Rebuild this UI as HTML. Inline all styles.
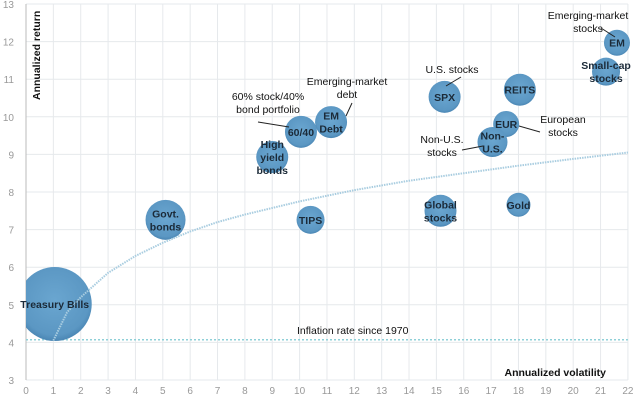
<!DOCTYPE html>
<html><head><meta charset="utf-8"><style>
html,body{margin:0;padding:0;background:#fff;}
svg{display:block;font-family:"Liberation Sans",Arial,sans-serif;}
</style></head><body>
<svg id="chart" width="640" height="401" viewBox="0 0 640 401"></svg>
<script>
const names=["Treasury Bills","Govt. bonds","High yield bonds","60/40","EM Debt","TIPS","SPX","Global stocks","REITS","EUR","Non-U.S.","Gold","EM","Small-cap stocks"];
const vol=[1.05,5.1,9.0,10.05,11.15,10.4,15.3,15.15,18.05,17.55,17.05,18.0,21.6,21.2];
const ret=[5.02,7.26,8.93,9.6,9.86,7.26,10.53,7.5,10.72,9.81,9.33,7.66,11.97,11.2];
const radius=[37,20,16,16,16,14,16,16,16,13,15,12,13,14];
const labels=[["Treasury Bills"],["Govt.","bonds"],["High","yield","bonds"],["60/40"],["EM","Debt"],["TIPS"],["SPX"],["Global","stocks"],["REITS"],["EUR"],["Non-","U.S."],["Gold"],["EM"],["Small-cap","stocks"]];
const curveX=[1,1.5,2,3,4,5,6,7,8,10,12,14,16,18,20,22];
const curveY=[4.05,4.8,5.2,5.85,6.3,6.65,6.95,7.2,7.4,7.75,8.05,8.3,8.5,8.7,8.88,9.05];
const inflation=4.07;
const xTicks=[0,1,2,3,4,5,6,7,8,9,10,11,12,13,14,15,16,17,18,19,20,21,22];
const yTicks=[3,4,5,6,7,8,9,10,11,12,13];

const X=v=>26+v*27.36, Y=v=>380-(v-3)*37.6;
const svg=document.getElementById('chart');
const NS="http://www.w3.org/2000/svg";
function mk(t,a,p){const e=document.createElementNS(NS,t);for(const k in a)e.setAttribute(k,a[k]);(p||svg).appendChild(e);return e;}

const defs=mk('defs',{});
const cp=mk('clipPath',{id:'clip'},defs);mk('rect',{x:26,y:0,width:614,height:401},cp);
const rg=mk('radialGradient',{id:'bub',cx:'50%',cy:'45%',r:'55%'},defs);
mk('stop',{offset:'0%','stop-color':'#6aa6d0'},rg);mk('stop',{offset:'85%','stop-color':'#5b97c3'},rg);mk('stop',{offset:'100%','stop-color':'#4a86b4'},rg);

const grid=mk('g',{});


xTicks.forEach(t=>{mk('line',{x1:X(t),x2:X(t),y1:Y(13),y2:Y(3),stroke:'#e6e9ec','stroke-width':1},grid);
 const tx=mk('text',{x:X(t),y:394,'font-size':10,fill:'#999','text-anchor':'middle'});tx.textContent=t;
 });
yTicks.forEach(t=>{mk('line',{x1:X(0),x2:X(22),y1:Y(t),y2:Y(t),stroke:'#e6e9ec','stroke-width':1},grid);
 const tx=mk('text',{x:14,y:Y(t)+4,'font-size':10,fill:'#999','text-anchor':'end'});tx.textContent=t;
 });
const ax=mk('line',{x1:X(0),x2:X(0),y1:Y(13),y2:Y(3),stroke:'#bbb'});


const inf=mk('line',{x1:X(0),x2:X(22),y1:Y(inflation),y2:Y(inflation),stroke:'#8fd0d8','stroke-width':1.5,'stroke-dasharray':'2,2'});

const il=mk('text',{x:297,y:Y(inflation)-6,'font-size':10.5,fill:'#111'});il.textContent='Inflation rate since 1970';


const bg=mk('g',{'clip-path':'url(#clip)'});
names.forEach((n,i)=>{
 const c=mk('circle',{cx:X(vol[i]),cy:Y(ret[i]),r:radius[i],fill:'url(#bub)'},bg);
 
 
});
const d=curveX.map((v,i)=>(i?'L':'M')+X(v)+','+Y(curveY[i])).join(' ');
const cv=mk('path',{d:d,fill:'none',stroke:'#a9cde0','stroke-width':2,'stroke-dasharray':'1.5,1'});


names.forEach((n,i)=>{
 const L=labels[i];const cx=X(vol[i]),cy=Y(ret[i]);
 L.forEach((s,j)=>{const t=mk('text',{x:cx,y:cy+4+(j-(L.length-1)/2)*13,'font-size':10.5,'font-weight':'bold',fill:'#1b2a38','text-anchor':'middle'});t.textContent=s;
  });
});

function ann(lines,x,y,anchor){lines.forEach((s,j)=>{const t=mk('text',{x:x,y:y+j*13,'font-size':10.5,fill:'#111','text-anchor':anchor||'middle'});t.textContent=s;
 });}
function lead(x1,y1,x2,y2){const l=mk('line',{x1,y1,x2,y2,stroke:'#222','stroke-width':1});}
ann(['60% stock/40%','bond portfolio'],268,100);lead(258,122,289,127);
ann(['Emerging-market','debt'],347,85);lead(352,103,346,116);
ann(['U.S. stocks'],452,73);lead(461,77,446,86);
ann(['Non-U.S.','stocks'],442,143);lead(462,150,483,146);
ann(['European','stocks'],563,123);lead(519,126,540,132);
ann(['Emerging-market','stocks'],588,19);lead(601,28,615,37);
const ay=mk('text',{x:0,y:0,'font-size':10.5,'font-weight':'bold',fill:'#111',transform:'translate(40,100) rotate(-90)'});ay.textContent='Annualized return';

const axx=mk('text',{x:606,y:376,'font-size':10.5,'font-weight':'bold',fill:'#111','text-anchor':'end'});axx.textContent='Annualized volatility';

</script>
</body></html>
